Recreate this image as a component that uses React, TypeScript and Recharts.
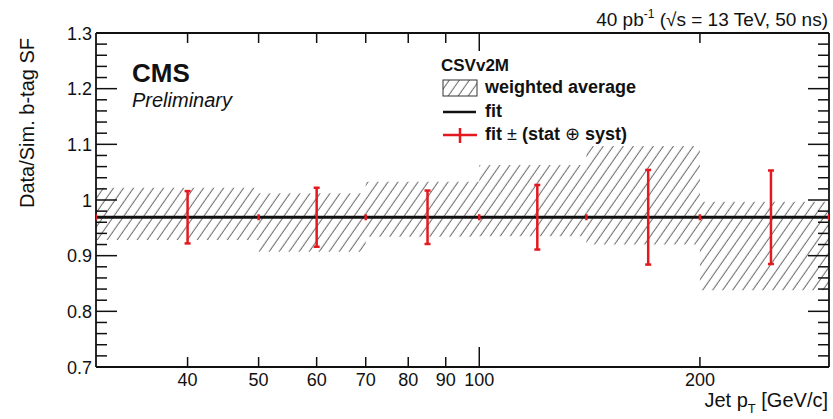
import React from "react";
import {
  ComposedChart,
  XAxis,
  YAxis,
  ReferenceArea,
  Line,
  Scatter,
  ErrorBar,
} from "recharts";

const FONT = '"Liberation Sans", Arial, Helvetica, sans-serif';
const RED = "#e3191f";
const INK = "#111";

// pT bin edges [GeV/c] and the weighted-average band per bin
const binEdges = [30, 50, 70, 100, 140, 200, 300];
const avgLow = [0.928, 0.907, 0.934, 0.935, 0.92, 0.838];
const avgHigh = [1.022, 1.012, 1.033, 1.063, 1.097, 0.997];

// flat fit and its uncertainty at the bin centres
const fitValue = 0.969;
const binCentres = [40, 60, 85, 120, 170, 250];
const fitErr = [0.047, 0.053, 0.048, 0.058, 0.085, 0.084];

const xTicks = [40, 50, 60, 70, 80, 90, 100, 200];
const yTicks = [
  0.7, 0.72, 0.74, 0.76, 0.78, 0.8, 0.82, 0.84, 0.86, 0.88, 0.9, 0.92, 0.94,
  0.96, 0.98, 1.0, 1.02, 1.04, 1.06, 1.08, 1.1, 1.12, 1.14, 1.16, 1.18, 1.2,
  1.22, 1.24, 1.26, 1.28, 1.3,
];

const boxes = avgLow.map((lo, i) => ({
  x1: binEdges[i],
  x2: binEdges[i + 1],
  lo,
  hi: avgHigh[i],
}));
const fitPoints = binCentres.map((x, i) => ({ x, y: fitValue, err: fitErr[i] }));
const edgePoints = binEdges.map((x) => ({ x, y: fitValue }));
const fitLine = [
  { x: binEdges[0], y: fitValue },
  { x: binEdges[binEdges.length - 1], y: fitValue },
];

const isMajorY = (v: number) => Math.abs(v * 10 - Math.round(v * 10)) < 1e-6;
const fmtY = (v: number) => String(Number(v.toFixed(1)));

const BottomTick = ({ x, y, payload }: any) => {
  const v = payload.value;
  const len = v === 100 ? 20 : 10;
  return (
    <g>
      <line x1={x} x2={x} y1={y} y2={y - len} stroke={INK} strokeWidth={1.5} />
      <text x={x} y={y + 19} textAnchor="middle" fontSize={18} fontFamily={FONT} fill={INK}>
        {v}
      </text>
    </g>
  );
};

const TopTick = ({ x, y, payload }: any) => {
  const len = payload.value === 100 ? 18 : 10;
  return <line x1={x} x2={x} y1={y} y2={y + len} stroke={INK} strokeWidth={1.5} />;
};

const LeftTick = ({ x, y, payload }: any) => {
  const v = payload.value;
  const major = isMajorY(v);
  return (
    <g>
      <line x1={x} x2={x + (major ? 21 : 11)} y1={y} y2={y} stroke={INK} strokeWidth={1.5} />
      {major && (
        <text x={x - 4} y={y + 6.5} textAnchor="end" fontSize={18} fontFamily={FONT} fill={INK}>
          {fmtY(v)}
        </text>
      )}
    </g>
  );
};

const RightTick = ({ x, y, payload }: any) => {
  const major = isMajorY(payload.value);
  return <line x1={x} x2={x - (major ? 21 : 11)} y1={y} y2={y} stroke={INK} strokeWidth={1.5} />;
};

const NoMarker = () => <g />;

const EdgeCap = ({ cx, cy }: any) => (
  <line x1={cx} x2={cx} y1={cy - 3} y2={cy + 3} stroke={RED} strokeWidth={2.5} />
);

export default function App() {
  return (
    <div style={{ position: "absolute", left: 0, top: 0, width: 833, height: 419, background: "#fff" }}>
      <svg width={0} height={0} style={{ position: "absolute" }}>
        <defs>
          <pattern
            id="hatch"
            patternUnits="userSpaceOnUse"
            width={8.2}
            height={8.2}
            patternTransform="rotate(35)"
          >
            <line x1={4} y1={0} x2={4} y2={8.2} stroke="#666" strokeWidth={1} />
          </pattern>
        </defs>
      </svg>

      <ComposedChart
        width={833}
        height={419}
        margin={{ top: 32, right: 0, bottom: 12, left: 36 }}
      >
        <XAxis
          dataKey="x"
          type="number"
          scale="log"
          domain={[30, 300]}
          allowDataOverflow
          ticks={xTicks}
          interval={0}
          height={40}
          tickSize={0}
          tickMargin={0}
          tickLine={false}
          axisLine={{ stroke: INK, strokeWidth: 1.8 }}
          tick={<BottomTick />}
        />
        <XAxis
          xAxisId="top"
          orientation="top"
          dataKey="x"
          type="number"
          scale="log"
          domain={[30, 300]}
          allowDataOverflow
          ticks={xTicks}
          interval={0}
          height={1}
          tickSize={0}
          tickMargin={0}
          tickLine={false}
          axisLine={{ stroke: INK, strokeWidth: 1.8 }}
          tick={<TopTick />}
        />
        <YAxis
          type="number"
          domain={[0.7, 1.3]}
          allowDataOverflow
          ticks={yTicks}
          interval={0}
          width={60}
          tickSize={0}
          tickMargin={0}
          tickLine={false}
          axisLine={{ stroke: INK, strokeWidth: 1.8 }}
          tick={<LeftTick />}
        />
        <YAxis
          yAxisId="right"
          orientation="right"
          type="number"
          domain={[0.7, 1.3]}
          allowDataOverflow
          ticks={yTicks}
          interval={0}
          width={4}
          tickSize={0}
          tickMargin={0}
          tickLine={false}
          axisLine={{ stroke: INK, strokeWidth: 1.8 }}
          tick={<RightTick />}
        />

        {boxes.map((b, i) => (
          <ReferenceArea
            key={`avg-${i}`}
            x1={b.x1}
            x2={b.x2}
            y1={b.lo}
            y2={b.hi}
            fill="url(#hatch)"
            fillOpacity={1}
            stroke="none"
          />
        ))}

        <Line
          data={fitLine}
          dataKey="y"
          stroke={INK}
          strokeWidth={3}
          dot={false}
          isAnimationActive={false}
        />
        <Scatter data={edgePoints} dataKey="y" shape={<EdgeCap />} isAnimationActive={false} />
        <Scatter data={fitPoints} dataKey="y" shape={<NoMarker />} isAnimationActive={false}>
          <ErrorBar dataKey="err" direction="y" width={3} stroke={RED} strokeWidth={2.5} />
        </Scatter>
      </ComposedChart>

      <svg
        width={833}
        height={419}
        style={{ position: "absolute", left: 0, top: 0, pointerEvents: "none" }}
        fontFamily={FONT}
        fill={INK}
      >
        <text x={828} y={26} textAnchor="end" fontSize={19}>
          40 pb
          <tspan fontSize={12} dy={-8}>-1</tspan>
          <tspan dy={8}> (√s = 13 TeV, 50 ns)</tspan>
        </text>

        <text transform="translate(34,38) rotate(-90)" textAnchor="end" fontSize={20}>
          Data/Sim. b-tag SF
        </text>
        <text x={828} y={407} textAnchor="end" fontSize={20}>
          Jet p
          <tspan fontSize={13} dy={6}>T</tspan>
          <tspan dy={-6}> [GeV/c]</tspan>
        </text>

        <text x={132} y={82} fontSize={26} fontWeight="bold">CMS</text>
        <text x={132} y={107} fontSize={20} fontStyle="italic">Preliminary</text>

        <text x={441} y={71} fontSize={17} fontWeight="bold">CSVv2M</text>
        <rect x={443} y={80} width={34} height={16} fill="url(#hatch)" stroke="#333" strokeWidth={1} />
        <text x={485} y={93} fontSize={18} fontWeight="bold">weighted average</text>
        <line x1={443} x2={476} y1={112} y2={112} stroke={INK} strokeWidth={2.5} />
        <text x={485} y={117} fontSize={18} fontWeight="bold">fit</text>
        <line x1={443} x2={477} y1={135} y2={135} stroke={RED} strokeWidth={2.5} />
        <line x1={460} x2={460} y1={128} y2={143} stroke={RED} strokeWidth={2.5} />
        <text x={485} y={140} fontSize={18} fontWeight="bold">
          fit <tspan fontWeight="normal">±</tspan> (stat <tspan fontWeight="normal">⊕</tspan> syst)
        </text>
      </svg>
    </div>
  );
}
